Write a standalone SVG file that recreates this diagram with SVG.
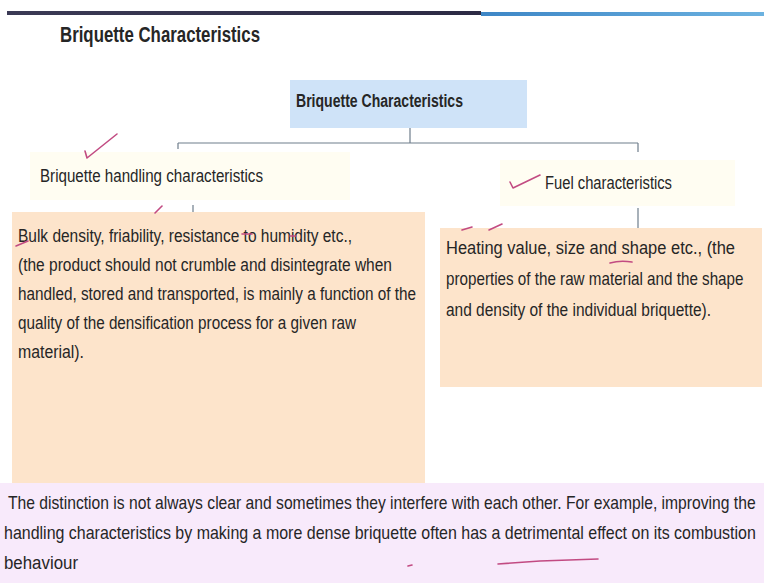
<svg xmlns="http://www.w3.org/2000/svg" width="764" height="583" viewBox="0 0 764 583">
<defs>
<linearGradient id="barL" x1="0" x2="1" y1="0" y2="0"><stop offset="0" stop-color="#3b3a55"/><stop offset="1" stop-color="#2c2a44"/></linearGradient>
<linearGradient id="barR" x1="0" x2="1" y1="0" y2="0"><stop offset="0" stop-color="#3d86c6"/><stop offset="1" stop-color="#6cb2e0"/></linearGradient>
<style>
text{font-family:"Liberation Sans","DejaVu Sans",sans-serif;fill:#262626;}
.b{font-weight:bold;}
.t{font-size:17.5px;}
.bt{font-size:18px;}
.conn{stroke:#6f7e8c;stroke-width:1.2;fill:none;}
.ink{stroke:#c24b82;stroke-width:1.6;fill:none;stroke-linecap:round;stroke-linejoin:round;}
</style>
</defs>
<rect width="764" height="583" fill="#ffffff"/>
<rect x="7" y="11" width="474" height="4" fill="url(#barL)"/>
<rect x="481" y="12" width="283" height="4" fill="url(#barR)"/>
<text class="b" x="60" y="42" font-size="22" textLength="200" lengthAdjust="spacingAndGlyphs">Briquette Characteristics</text>

<g id="connectors">
<path class="conn" d="M410,128 V143 M178,143 H638 M178,143 V149 M638,143 V152 M193,205 V212 M638,208 V228"/>
</g>

<g id="root">
<rect x="290" y="80" width="237" height="48" fill="#cfe3f8"/>
<text class="b" font-size="17.5" x="296" y="107" textLength="167" lengthAdjust="spacingAndGlyphs">Briquette Characteristics</text>
</g>

<g id="handling">
<rect x="30" y="152" width="320" height="48" fill="#fffdf2"/>
<text class="t" x="40" y="182" textLength="223" lengthAdjust="spacingAndGlyphs">Briquette handling characteristics</text>
</g>

<g id="fuel">
<rect x="500" y="160" width="235" height="46" fill="#fffdf2"/>
<text class="t" x="545" y="189" textLength="127" lengthAdjust="spacingAndGlyphs">Fuel characteristics</text>
</g>

<g id="handling-detail">
<rect x="12" y="212" width="413" height="271" fill="#fde4cb"/>
<text class="t" x="18" y="242" textLength="334" lengthAdjust="spacingAndGlyphs">Bulk density, friability, resistance to humidity etc.,</text>
<text class="t" x="18" y="271" textLength="374" lengthAdjust="spacingAndGlyphs">(the product should not crumble and disintegrate when</text>
<text class="t" x="18" y="300" textLength="398" lengthAdjust="spacingAndGlyphs">handled, stored and transported, is mainly a function of the</text>
<text class="t" x="18" y="329" textLength="338" lengthAdjust="spacingAndGlyphs">quality of the densification process for a given raw</text>
<text class="t" x="18" y="358" textLength="66" lengthAdjust="spacingAndGlyphs">material).</text>
</g>

<g id="fuel-detail">
<rect x="440" y="228" width="322" height="159" fill="#fde4cb"/>
<text class="t" x="446" y="254" textLength="289" lengthAdjust="spacingAndGlyphs">Heating value, size and shape etc.,  (the</text>
<text class="t" transform="translate(446,285) scale(0.85,1)" x="0" y="0" textLength="350" lengthAdjust="spacingAndGlyphs">properties of the raw material and the shape</text>
<text class="t" x="446" y="316" textLength="265" lengthAdjust="spacingAndGlyphs">and density of the individual briquette).</text>
</g>

<g id="note">
<rect x="0" y="483" width="764" height="100" fill="#f8eafb"/>
<text class="bt" transform="translate(8,509) scale(0.84,1)" x="0" y="0" textLength="890" lengthAdjust="spacingAndGlyphs">The distinction is not always clear and sometimes they interfere with each other. For example, improving the</text>
<text class="bt" transform="translate(4,539) scale(0.84,1)" x="0" y="0" textLength="895" lengthAdjust="spacingAndGlyphs">handling characteristics by making a more dense briquette often has a detrimental effect on its combustion</text>
<text class="bt" x="4" y="569" textLength="74" lengthAdjust="spacingAndGlyphs">behaviour</text>
</g>

<g id="annotations">
<path class="ink" d="M85,151 L87,158 L117,134"/>
<path class="ink" d="M155,213 L162,206"/>
<path class="ink" d="M16,246 L28,241"/>
<path class="ink" d="M242,234 L252,234"/>
<path class="ink" d="M290,236 L296,236"/>
<path class="ink" d="M510,182 L513,188 L540,175"/>
<path class="ink" d="M462,230 L472,227"/>
<path class="ink" d="M489,230 L502,224"/>
<path class="ink" d="M610,263 Q620,260 632,262"/>
<path class="ink" d="M408,566 L412,565"/>
<path class="ink" d="M498,564 L540,561 L598,559"/>
</g>
</svg>
